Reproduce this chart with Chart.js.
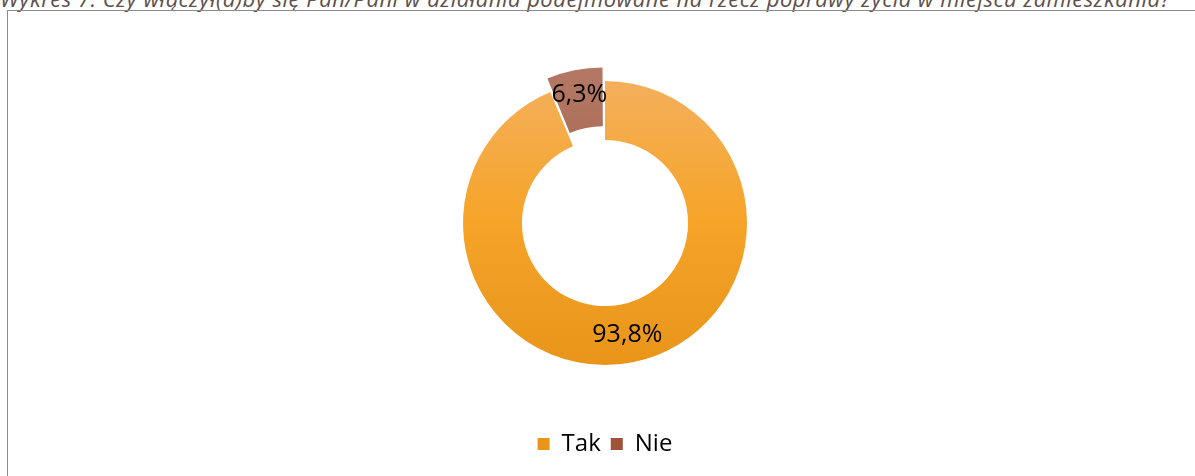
<!DOCTYPE html>
<html lang="pl">
<head>
<meta charset="UTF-8" />
<title>Wykres 7</title>
<script src="https://cdn.jsdelivr.net/npm/chart.js"></script>
<style>
  html, body { margin: 0; padding: 0; background: #fff; overflow: hidden; }
  body { width: 1195px; height: 476px; position: relative; }
  .tytul {
    position: absolute; left: 0; top: -17px; white-space: nowrap;
    font-family: "Open Sans", sans-serif; font-style: italic; font-size: 22px;
    letter-spacing: 0.5px; color: #5e504b;
  }
  .ramka {
    position: absolute; left: 7px; top: 10px; width: 1200px; height: 480px;
    border: 1px solid #8c8c8c; box-sizing: border-box;
  }
  .wykres { position: absolute; left: 0; top: 0; width: 1195px; height: 476px; }
</style>
</head>
<body>
  <div class="tytul">Wykres 7. Czy włączył(a)by się Pan/Pani w działania podejmowane na rzecz poprawy życia w miejscu zamieszkania?</div>
  <div class="ramka"></div>
  <div class="wykres"><canvas id="myChart"></canvas></div>

<script>
  // dane wykresu
  const kategorie = ["Tak", "Nie"];
  const wartosci = [93.8, 6.3];
  const koloryGora = ["#f4b060", "#b47a66"];
  const koloryMid = ["#f6a52a", "#a96650"];
  const koloryDol = ["#e8951a", "#9e5236"];

  function gradient(context) {
    const chart = context.chart;
    const i = context.dataIndex;
    const area = chart.chartArea;
    if (!area || i === undefined) return koloryMid[i || 0];
    const cy = (area.top + area.bottom) / 2;
    const g = chart.ctx.createLinearGradient(0, cy - 156, 0, cy + 142);
    g.addColorStop(0, koloryGora[i]);
    g.addColorStop(0.5, koloryMid[i]);
    g.addColorStop(1, koloryDol[i]);
    return g;
  }

  // etykiety procentowe na kawalkach
  const etykiety = {
    id: "etykiety",
    afterDatasetsDraw(chart) {
      const ctx = chart.ctx;
      const meta = chart.getDatasetMeta(0);
      ctx.save();
      ctx.font = "25px 'Open Sans', sans-serif";
      ctx.fillStyle = "#000";
      ctx.textAlign = "center";
      ctx.textBaseline = "middle";
      meta.data.forEach(function (arc, i) {
        const p = arc.getProps(["x", "y", "startAngle", "endAngle", "innerRadius", "outerRadius"]);
        const mid = (p.startAngle + p.endAngle) / 2;
        const r = p.innerRadius + 0.52 * (p.outerRadius - p.innerRadius) + (arc.options.offset || 0) / 2;
        const tekst = wartosci[i].toFixed(1).replace(".", ",") + "%";
        ctx.fillText(tekst, p.x + Math.cos(mid) * r, p.y + Math.sin(mid) * r);
      });
      ctx.restore();
    },
  };

  const dados = {
    labels: kategorie,
    datasets: [
      {
        data: wartosci,
        backgroundColor: gradient,
        borderWidth: 0,
        offset: [0, 34],
        hoverOffset: 0,
      },
    ],
  };

  const config = {
    type: "doughnut",
    data: dados,
    options: {
      responsive: true,
      maintainAspectRatio: false,
      animation: false,
      radius: 142,
      cutout: "58.5%",
      layout: { padding: { left: 15, right: 0, top: 24, bottom: 10 } },
      plugins: {
        tooltip: { enabled: false },
        legend: {
          position: "bottom",
          labels: {
            boxWidth: 12,
            boxHeight: 12,
            padding: 10,
            color: "#000",
            font: { family: "'Open Sans', sans-serif", size: 24 },
          },
        },
      },
    },
    plugins: [etykiety],
  };

  new Chart(document.getElementById("myChart"), config);
</script>
</body>
</html>
